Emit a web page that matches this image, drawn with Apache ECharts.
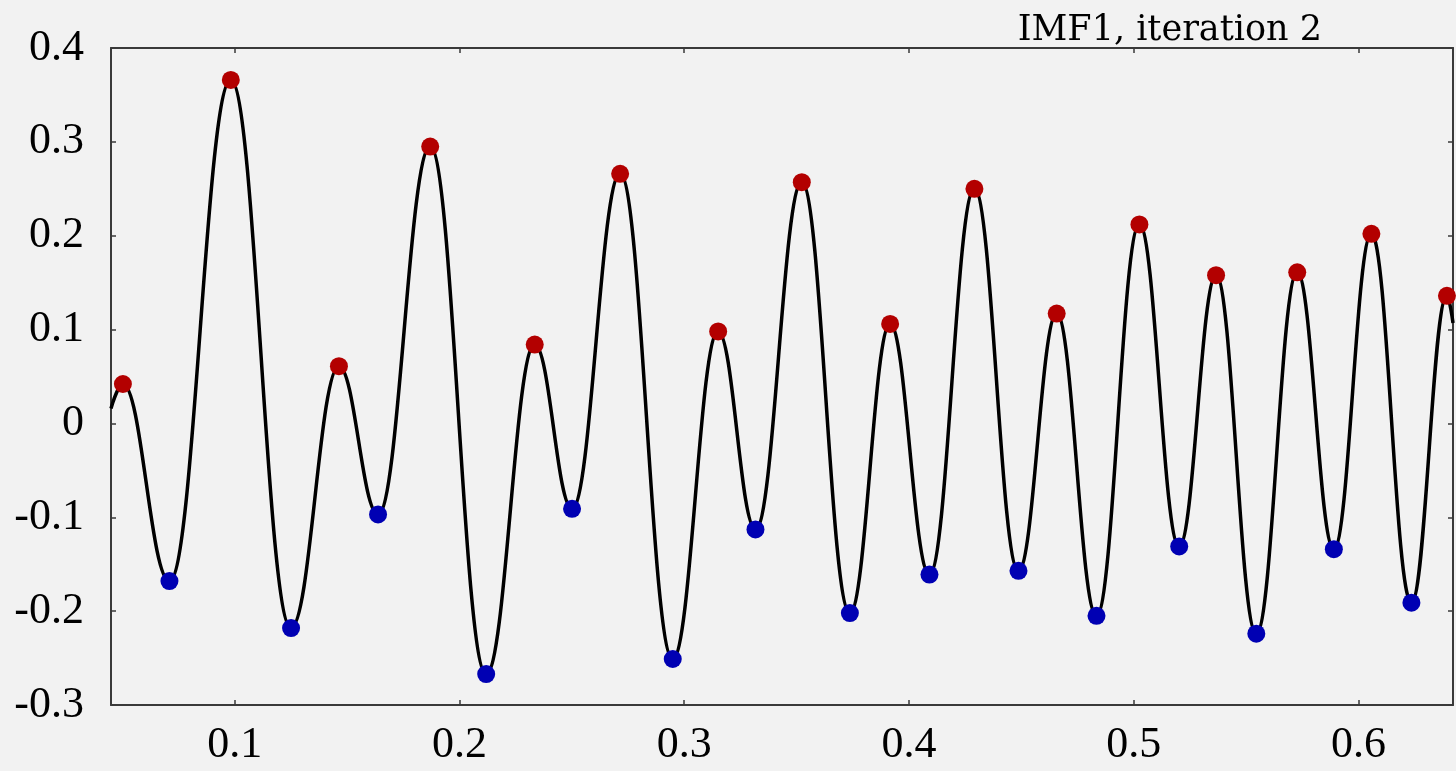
<!DOCTYPE html>
<html>
<head>
<meta charset="utf-8">
<script src="https://cdn.jsdelivr.net/npm/echarts@6/dist/echarts.min.js"></script>
<style>
html, body { margin: 0; padding: 0; background: #f2f2f2; }
#container { width: 1456px; height: 771px; }
</style>
</head>
<body>
<div id="container"></div>
<script>
// upper extrema (red dots)
let maxX = [0.0503, 0.0983, 0.1464, 0.1870, 0.2335, 0.2715, 0.3151, 0.3523, 0.3916, 0.4291, 0.4657, 0.5025, 0.5366, 0.5727, 0.6057, 0.6393];
let maxY = [0.042, 0.366, 0.061, 0.295, 0.084, 0.266, 0.098, 0.257, 0.106, 0.250, 0.117, 0.212, 0.158, 0.161, 0.202, 0.136];

// lower extrema (blue dots)
let minX = [0.0710, 0.1251, 0.1638, 0.2119, 0.2501, 0.2949, 0.3317, 0.3737, 0.4091, 0.4487, 0.4834, 0.5202, 0.5545, 0.5890, 0.6235];
let minY = [-0.168, -0.218, -0.097, -0.267, -0.091, -0.251, -0.113, -0.202, -0.161, -0.157, -0.205, -0.131, -0.224, -0.134, -0.191];

// where the signal enters / leaves the plot
let startPoint = [0.045, 0.016];
let endPoint = [0.642, 0.107];

let xTicks = [0.1, 0.2, 0.3, 0.4, 0.5, 0.6];

let maxPts = maxX.map((x, i) => [x, maxY[i]]);
let minPts = minX.map((x, i) => [x, minY[i]]);
let curve = [startPoint].concat(maxPts, minPts).sort((a, b) => a[0] - b[0]);
curve.push(endPoint);

let dom = document.getElementById("container");
let chart = echarts.init(dom);

let serif = 'Liberation Serif, Times New Roman, serif';
let frame = {show: true, onZero: false, lineStyle: {color: '#3a3a3a', width: 2}};
let tick = {show: true, inside: true, length: 5, lineStyle: {color: '#3a3a3a', width: 1.5}};
let xTick = Object.assign({customValues: xTicks}, tick);

chart.setOption({
    backgroundColor: '#f2f2f2',
    animation: false,
    title: {
        text: 'IMF1, iteration 2',
        right: 129,
        top: 8,
        textStyle: {fontFamily: 'DejaVu Serif', fontWeight: 'normal', fontSize: 35, color: '#000'}
    },
    grid: {left: 111, right: 3, top: 48, bottom: 66},
    xAxis: [{
        type: 'value', min: startPoint[0], max: endPoint[0],
        position: 'bottom',
        axisLine: frame,
        axisTick: xTick,
        splitLine: {show: false},
        axisLabel: {
            fontFamily: serif, fontSize: 44, color: '#000', margin: 18,
            customValues: xTicks,
            formatter: (v) => v.toFixed(1)
        }
    }, {
        type: 'value', min: startPoint[0], max: endPoint[0],
        position: 'top',
        axisLine: frame,
        axisTick: xTick,
        axisLabel: {show: false},
        splitLine: {show: false}
    }],
    yAxis: [{
        type: 'value', min: -0.3, max: 0.4, interval: 0.1,
        position: 'left',
        axisLine: frame,
        axisTick: tick,
        splitLine: {show: false},
        axisLabel: {
            fontFamily: serif, fontSize: 44, color: '#000', margin: 27,
            formatter: (v) => (Math.abs(v) < 1e-9 ? '0' : v.toFixed(1))
        }
    }, {
        type: 'value', min: -0.3, max: 0.4, interval: 0.1,
        position: 'right',
        axisLine: frame,
        axisTick: tick,
        axisLabel: {show: false},
        splitLine: {show: false}
    }],
    series: [{
        name: 'signal',
        type: 'line',
        data: curve,
        smooth: 0.4,
        smoothMonotone: 'x',
        showSymbol: false,
        lineStyle: {color: '#000', width: 3.5},
        z: 2
    }, {
        name: 'maxima',
        type: 'scatter',
        data: maxPts,
        symbolSize: 18,
        itemStyle: {color: '#b30000', opacity: 1},
        z: 3
    }, {
        name: 'minima',
        type: 'scatter',
        data: minPts,
        symbolSize: 18,
        itemStyle: {color: '#0000b3', opacity: 1},
        z: 3
    }]
});
</script>
</body>
</html>
